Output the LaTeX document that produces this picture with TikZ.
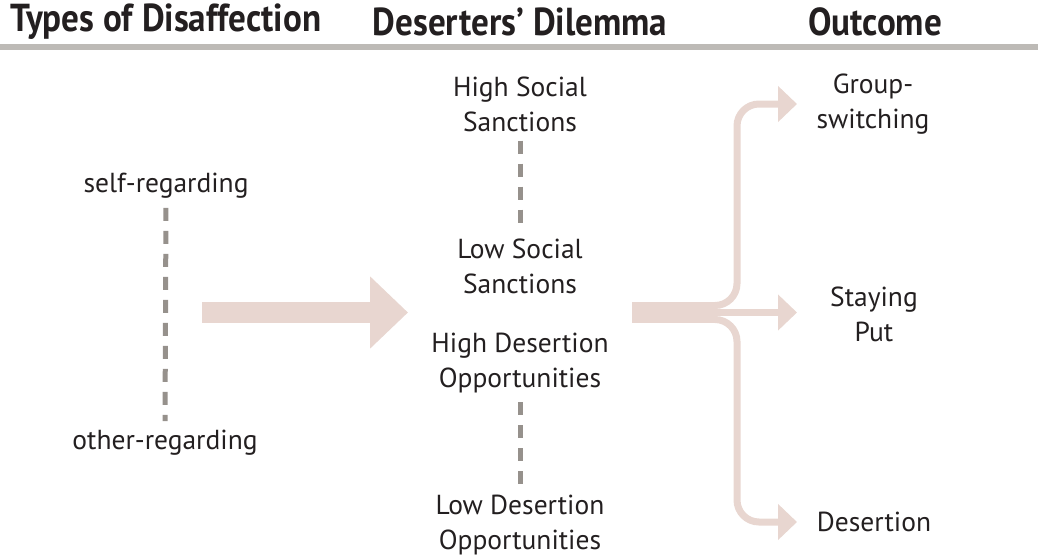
\documentclass[tikz,border=0pt]{standalone}
\usepackage{fontspec}
\setmainfont{PT Sans}
\newfontfamily\headfont[FakeStretch=0.9]{PT Sans}
\usepackage{tikz}
\usetikzlibrary{arrows.meta,positioning,calc}
\definecolor{dtext}{HTML}{231F20}
\definecolor{drule}{HTML}{BDBAB6}
\definecolor{ddash}{HTML}{96918C}
\definecolor{dpink}{HTML}{E8D6D0}
\tikzset{
  head/.style={font=\headfont\bfseries\fontsize{39}{44}\selectfont,text=dtext,inner sep=0pt},
  lab/.style={font=\fontsize{27.5}{35}\selectfont,text=dtext,align=center,inner sep=3pt},
  dashsep/.style={draw=ddash,line width=5pt,dash pattern=on 13pt off 10pt,shorten <=6pt,shorten >=6pt},
  bigarr/.style={-{Triangle[length=38pt,width=70pt]},draw=dpink,line width=21pt},
  brarr/.style={-{Triangle[length=19pt,width=35pt]},draw=dpink,line width=7pt,rounded corners=22pt},
}
\begin{document}
\begin{tikzpicture}[x=1pt,y=-1pt]
  \useasboundingbox (0,0) rectangle (1038,557);
  % headings
  \node[head] (h1) at (166,22) {Types of Disaffection};
  \node[head] (h2) at (520,22) {Deserters’ Dilemma};
  \node[head] (h3) at (875,22) {Outcome};
  \coordinate (rl) at (0,46.5);
  \coordinate (rr) at (1038,46.5);
  \draw[drule,line width=6pt] (rl) -- (rr);
  % disaffection
  \node[lab] (self) at (166,186) {self-regarding};
  \node[lab] (other) at (165,443) {other-regarding};
  \draw[dashsep] (self.south) -- (other.north);
  % dilemma
  \node[lab] (hs) at (520,104) {High Social\\Sanctions};
  \node[lab] (ls) at (520,266) {Low Social\\Sanctions};
  \node[lab] (hd) at (520,363) {High Desertion\\Opportunities};
  \node[lab] (ld) at (520,525) {Low Desertion\\Opportunities};
  \draw[dashsep] (hs.south) -- (ls.north);
  \draw[dashsep] (hd.south) -- (ld.north);
  % outcomes
  \node[lab] (grp) at (873,104) {Group-\\switching};
  \node[lab] (stay) at (874,314) {Staying\\Put};
  \node[lab] (des) at (874,522) {Desertion};
  % arrows
  \coordinate (as) at (202,312.5);
  \coordinate (ae) at (408,312.5);
  \draw[bigarr] (as) -- (ae);
  \coordinate (bs) at (632,312.5);
  \coordinate (jn) at (716,312.5);
  \coordinate (spl) at (737,0);
  \coordinate (tip) at (797,0);
  \draw[draw=dpink,line width=21pt] (bs) -- (jn);
  \draw[brarr] ([yshift=7pt]jn) -| (spl |- grp) -- (grp.west -| tip);
  \draw[brarr] (jn) -- (jn -| tip);
  \draw[brarr] ([yshift=-7pt]jn) -| (spl |- des) -- (des.west -| tip);
\end{tikzpicture}
\end{document}
